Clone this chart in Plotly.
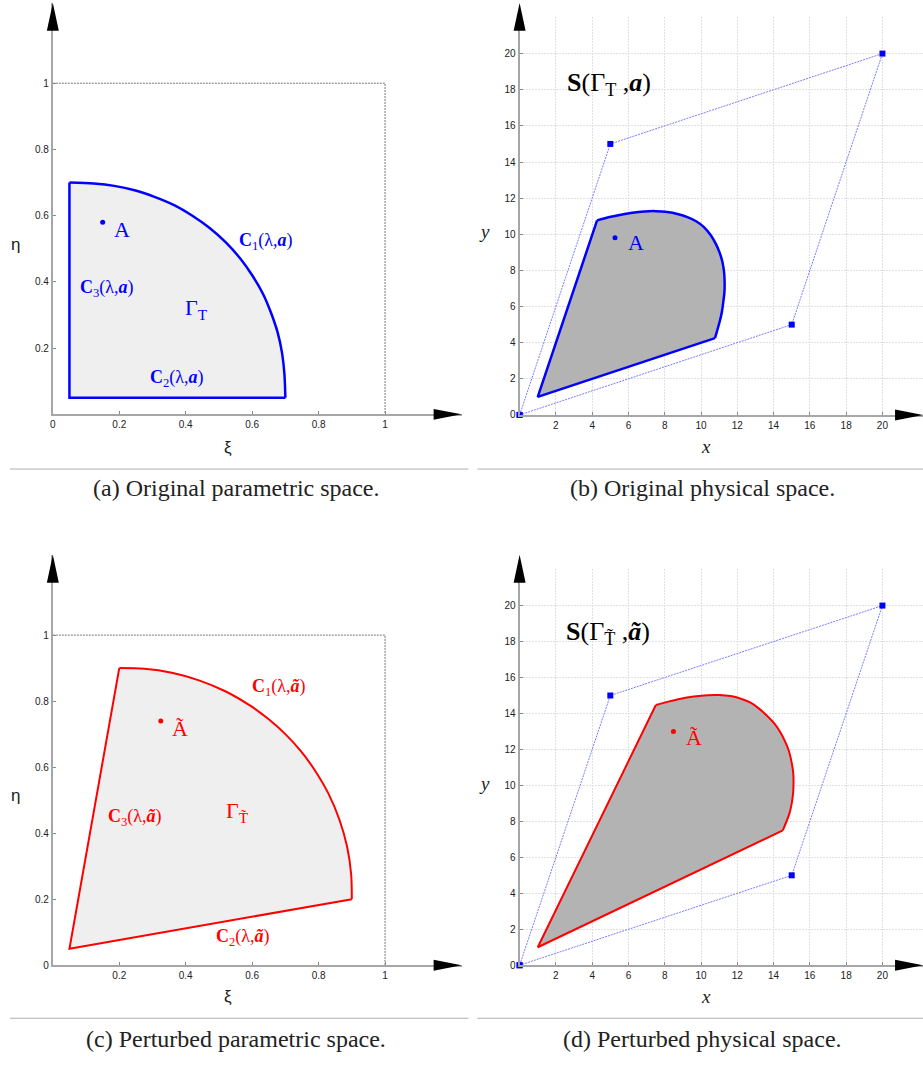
import plotly.graph_objects as go

W, H = 923, 1066

# ---------------- data ----------------
# (a) original parametric space
a_corner_xi = [0.05]            # common corner of C2 and C3
a_corner_eta = [0.05]
a_c1_xi = [0.700, 0.697, 0.690, 0.677, 0.657, 0.632, 0.600, 0.563, 0.520, 0.472,
           0.420, 0.365, 0.306, 0.246, 0.185, 0.123, 0.050]
a_c1_eta = [0.050, 0.123, 0.185, 0.246, 0.306, 0.365, 0.420, 0.472, 0.520, 0.563,
            0.600, 0.632, 0.657, 0.677, 0.690, 0.697, 0.700]
a_pt_xi = [0.15]
a_pt_eta = [0.58]

# (b) original physical space
b_corner_x = [1.0]
b_corner_y = [1.0]
b_c1_x = [10.77, 11.03, 11.15, 11.23, 11.29, 11.30, 11.27, 11.18, 11.02, 10.81, 10.52,
          10.16, 9.73, 9.25, 8.70, 8.15, 7.50, 6.87, 6.22, 5.59, 4.90, 4.27]
b_c1_y = [4.25, 5.17, 5.70, 6.27, 6.80, 7.37, 7.90, 8.47, 9.00, 9.48, 9.97,
          10.40, 10.72, 10.95, 11.12, 11.23, 11.28, 11.26, 11.19, 11.08, 10.94, 10.77]
b_pt_x = [5.26]
b_pt_y = [9.81]

# control polygon (physical space)
ctrl_x = [0, 15, 20, 5, 0]
ctrl_y = [0, 5, 20, 15, 0]

# (c) perturbed parametric space
c_corner_xi = [0.05]
c_corner_eta = [0.05]
c_c1_xi = [0.900, 0.898, 0.886, 0.863, 0.830, 0.787, 0.746, 0.700, 0.649, 0.593,
           0.519, 0.440, 0.358, 0.275, 0.200]
c_c1_eta = [0.200, 0.275, 0.358, 0.440, 0.519, 0.593, 0.649, 0.700, 0.746, 0.787,
            0.830, 0.863, 0.886, 0.898, 0.900]
c_pt_xi = [0.325]
c_pt_eta = [0.74]

# (d) perturbed physical space
d_corner_x = [1.0]
d_corner_y = [1.0]
d_c1_x = [14.51, 14.87, 15.00, 15.08, 15.10, 15.08, 14.98, 14.84, 14.63, 14.38, 14.05,
          13.65, 13.20, 12.73, 12.20, 11.63, 11.00, 10.35, 9.60, 8.88, 8.20, 7.51]
d_c1_y = [7.50, 8.43, 9.00, 9.62, 10.20, 10.73, 11.35, 11.93, 12.45, 12.94, 13.43,
          13.86, 14.27, 14.60, 14.82, 14.97, 15.03, 15.02, 14.94, 14.82, 14.66, 14.47]
d_pt_x = [8.48]
d_pt_y = [13.0]

# unit square outline (parametric space)
box_xi = [0, 1, 1]
box_eta = [1, 1, 0]

# tick labels
param_ticks = [0, 0.2, 0.4, 0.6, 0.8, 1]
param_ticktext = ["0", "0.2", "0.4", "0.6", "0.8", "1"]
phys_ticks = [0, 2, 4, 6, 8, 10, 12, 14, 16, 18, 20]

captions = ["(a) Original parametric space.", "(b) Original physical space.",
            "(c) Perturbed parametric space.", "(d) Perturbed physical space."]

# ---------------- layout helpers ----------------
def fx(px):
    return px / W


def fy(py):
    return 1 - py / H


BLUE = "#0000ff"
RED = "#ff0000"
AXC = "#a6a6a6"
TICKFONT = dict(family="Liberation Sans, Arial, sans-serif", size=10, color="#222222")
SERIF = "Liberation Serif, Times New Roman, serif"

# pixel geometry of each panel: (x0px, x1px, px_per_unit_x, ybottom_px, ytop_px, px_per_unit_y)
panels = {
    "a": (50.0, 460.0, 333.3, 416.7, 3.0, 333.0),
    "b": (518.3, 923.0, 18.2, 417.3, 17.0, 18.17),
    "c": (50.0, 460.0, 333.3, 970.7, 558.0, 332.0),
    "d": (518.3, 923.0, 18.2, 970.7, 572.0, 18.085),
}

fig = go.Figure()


def axis_pair(key, n, xt, xtt, yt, ytt, grid):
    x0, x1, sx, yb, yt_px, sy = panels[key]
    suffix = "" if n == 1 else str(n)
    common = dict(showline=True, linecolor=AXC, linewidth=2,
                  ticks="inside", ticklen=3, tickcolor="#888888", tickwidth=1,
                  tickfont=TICKFONT, zeroline=False,
                  showgrid=grid, gridcolor="#e0e0e0", griddash="2px,1px", gridwidth=1,
                  fixedrange=True)
    xa = dict(domain=[fx(x0), fx(x1)], range=[0, (x1 - x0) / sx],
              anchor="y" + suffix, tickvals=xt, ticktext=xtt, **common)
    ya = dict(domain=[fy(yb), fy(yt_px)], range=[0, (yb - yt_px) / sy],
              anchor="x" + suffix, tickvals=yt, ticktext=ytt, **common)
    fig.layout["xaxis" + suffix] = xa
    fig.layout["yaxis" + suffix] = ya


axis_pair("a", 1, param_ticks, param_ticktext, param_ticks[1:], param_ticktext[1:], False)
axis_pair("b", 2, phys_ticks[1:], [str(v) for v in phys_ticks[1:]], phys_ticks,
          [str(v) for v in phys_ticks], True)
axis_pair("c", 3, param_ticks[1:], param_ticktext[1:], param_ticks, param_ticktext, False)
axis_pair("d", 4, phys_ticks[1:], [str(v) for v in phys_ticks[1:]], phys_ticks,
          [str(v) for v in phys_ticks], True)


def region(cx, cy, arc_x, arc_y, fillcolor, color, width, xa, ya):
    # filled patch (no outline)
    fig.add_trace(go.Scatter(x=cx + arc_x + cx, y=cy + arc_y + cy, mode="lines",
                             fill="toself", fillcolor=fillcolor, line=dict(width=0),
                             xaxis=xa, yaxis=ya))
    # straight edges C3 -> corner -> C2
    fig.add_trace(go.Scatter(x=arc_x[-1:] + cx + arc_x[:1], y=arc_y[-1:] + cy + arc_y[:1],
                             mode="lines", line=dict(color=color, width=width),
                             xaxis=xa, yaxis=ya))
    # curved edge C1
    fig.add_trace(go.Scatter(x=arc_x, y=arc_y, mode="lines",
                             line=dict(color=color, width=width, shape="spline",
                                       smoothing=0.8),
                             xaxis=xa, yaxis=ya))


# (a)
fig.add_trace(go.Scatter(x=box_xi, y=box_eta, mode="lines", xaxis="x", yaxis="y",
                         line=dict(color="#777777", width=1, dash="2px,1px")))
region(a_corner_xi, a_corner_eta, a_c1_xi, a_c1_eta, "#efefef", BLUE, 2.5, "x", "y")
fig.add_trace(go.Scatter(x=a_pt_xi, y=a_pt_eta, mode="markers", xaxis="x", yaxis="y",
                         marker=dict(color=BLUE, size=5)))
# (b)
region(b_corner_x, b_corner_y, b_c1_x, b_c1_y, "#b3b3b3", BLUE, 2.5, "x2", "y2")
fig.add_trace(go.Scatter(x=ctrl_x, y=ctrl_y, mode="lines+markers", xaxis="x2", yaxis="y2",
                         line=dict(color="#7a7aff", width=1, dash="2px,1px"),
                         marker=dict(symbol="square", color=BLUE, size=6),
                         cliponaxis=False))
fig.add_trace(go.Scatter(x=b_pt_x, y=b_pt_y, mode="markers", xaxis="x2", yaxis="y2",
                         marker=dict(color=BLUE, size=5)))
# (c)
fig.add_trace(go.Scatter(x=box_xi, y=box_eta, mode="lines", xaxis="x3", yaxis="y3",
                         line=dict(color="#777777", width=1, dash="2px,1px")))
region(c_corner_xi, c_corner_eta, c_c1_xi, c_c1_eta, "#efefef", RED, 2, "x3", "y3")
fig.add_trace(go.Scatter(x=c_pt_xi, y=c_pt_eta, mode="markers", xaxis="x3", yaxis="y3",
                         marker=dict(color=RED, size=5)))
# (d)
region(d_corner_x, d_corner_y, d_c1_x, d_c1_y, "#b3b3b3", RED, 2, "x4", "y4")
fig.add_trace(go.Scatter(x=ctrl_x, y=ctrl_y, mode="lines+markers", xaxis="x4", yaxis="y4",
                         line=dict(color="#7a7aff", width=1, dash="2px,1px"),
                         marker=dict(symbol="square", color=BLUE, size=6),
                         cliponaxis=False))
fig.add_trace(go.Scatter(x=d_pt_x, y=d_pt_y, mode="markers", xaxis="x4", yaxis="y4",
                         marker=dict(color=RED, size=5)))

# ---------------- arrows & separators (paper shapes) ----------------
shapes = []


def tri_right(tip_x, y, length=28, half=5.5):
    return dict(type="path", xref="paper", yref="paper", layer="above",
                path=f"M {fx(tip_x)},{fy(y)} L {fx(tip_x - length)},{fy(y - half)} "
                     f"L {fx(tip_x - length)},{fy(y + half)} Z",
                fillcolor="black", line=dict(width=0))


def tri_up(x, tip_y, length=28, half=6):
    return dict(type="path", xref="paper", yref="paper", layer="above",
                path=f"M {fx(x)},{fy(tip_y)} L {fx(x - half)},{fy(tip_y + length)} "
                     f"L {fx(x + half)},{fy(tip_y + length)} Z",
                fillcolor="black", line=dict(width=0))


for key in ["a", "b", "c", "d"]:
    x0, x1, sx, yb, yt_px, sy = panels[key]
    shapes.append(tri_right(x1, yb))
    top_tip = 3.0 if key in ("a", "b") else 558.0
    shapes.append(tri_up(x0, top_tip))

for (sx0, sx1, sy_) in [(7, 467, 471.7), (476, 923, 471.7), (7, 467, 1024), (476, 923, 1024)]:
    shapes.append(dict(type="line", xref="paper", yref="paper",
                       x0=fx(sx0), x1=fx(sx1), y0=fy(sy_), y1=fy(sy_),
                       line=dict(color="#b0b0b0", width=1)))

fig.update_layout(shapes=shapes)

# ---------------- annotations ----------------
ann = []


def txt(text, x, y, xref, yref, size, color, xanchor="center", yanchor="middle",
        family=SERIF):
    ann.append(dict(text=text, x=x, y=y, xref=xref, yref=yref, showarrow=False,
                    xanchor=xanchor, yanchor=yanchor,
                    font=dict(family=family, size=size, color=color)))


# (a)
txt("<b>C</b><sub>1</sub>(λ,<b><i>a</i></b>)", 0.642, 0.522, "x", "y", 18, BLUE)
txt("<b>C</b><sub>3</sub>(λ,<b><i>a</i></b>)", 0.162, 0.380, "x", "y", 18, BLUE)
txt("<b>C</b><sub>2</sub>(λ,<b><i>a</i></b>)", 0.375, 0.107, "x", "y", 18, BLUE)
txt("Γ<sub>T</sub>", 0.432, 0.317, "x", "y", 22, BLUE)
txt("A", 0.178, 0.557, "x", "y", 22, BLUE, xanchor="left")
# (b)
txt("<b>S</b>(Γ<sub>T</sub> ,<b><i>a</i></b>)", 2.51, 18.34, "x2", "y2", 26, "black",
    xanchor="left")
txt("A", 5.86, 9.54, "x2", "y2", 22, BLUE, xanchor="left")
# (c)
txt("<b>C</b><sub>1</sub>(λ,<b><i>ã</i></b>)", 0.681, 0.842, "x3", "y3", 18, RED)
txt("<b>C</b><sub>3</sub>(λ,<b><i>ã</i></b>)", 0.246, 0.448, "x3", "y3", 18, RED)
txt("<b>C</b><sub>2</sub>(λ,<b><i>ã</i></b>)", 0.573, 0.083, "x3", "y3", 18, RED)
txt("Γ<sub>T\u0303</sub>", 0.555, 0.463, "x3", "y3", 22, RED)
txt("Ã", 0.354, 0.716, "x3", "y3", 22, RED, xanchor="left")
# (d)
txt("<b>S</b>(Γ<sub>T\u0303</sub> ,<b><i>ã</i></b>)", 2.46, 18.45, "x4", "y4", 26, "black",
    xanchor="left")
txt("Ã", 9.05, 12.65, "x4", "y4", 22, RED, xanchor="left")

# axis titles
SANS = "Liberation Sans, Arial, sans-serif"
txt("ξ", fx(226), fy(450), "paper", "paper", 17, "#222222", family=SANS)
txt("η", fx(13), fy(246), "paper", "paper", 17, "#222222", family=SANS)
txt("ξ", fx(226), fy(1002), "paper", "paper", 17, "#222222", family=SANS)
txt("η", fx(13), fy(800), "paper", "paper", 17, "#222222", family=SANS)
txt("<i>x</i>", fx(705), fy(449), "paper", "paper", 19, "#222222")
txt("<i>y</i>", fx(483), fy(233), "paper", "paper", 19, "#222222")
txt("<i>x</i>", fx(705), fy(1002), "paper", "paper", 19, "#222222")
txt("<i>y</i>", fx(483), fy(788), "paper", "paper", 19, "#222222")

# captions
cap_pos = [(234, 491), (702, 491), (234, 1045), (702, 1045)]
for c, (cx, cy) in zip(captions, cap_pos):
    txt(c, fx(cx), fy(cy), "paper", "paper", 24, "#222222")

fig.update_layout(annotations=ann, width=W, height=H, margin=dict(l=0, r=0, t=0, b=0),
                  plot_bgcolor="white", paper_bgcolor="white", showlegend=False)

fig.write_html("out.html", config={"displayModeBar": False},
               post_script="document.body.style.margin='0';"
                           "document.body.style.overflow='hidden';")
